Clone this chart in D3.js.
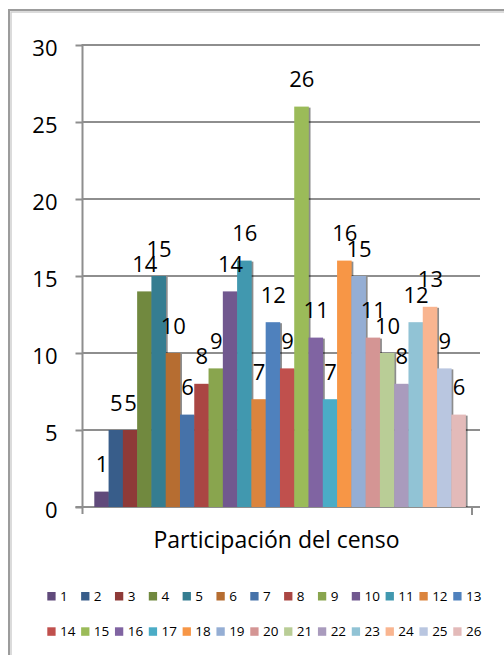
<!DOCTYPE html>
<html>
<head>
<meta charset="utf-8">
<script src="https://cdn.jsdelivr.net/npm/d3@7"></script>
<style>
html,body{margin:0;padding:0;background:#fff;}
svg{display:block;}
text{font-family:"Open Sans",sans-serif;fill:#000;}
</style>
</head>
<body>
<svg id="chart" width="504" height="655"></svg>
<script>
const seriesNames = ["1","2","3","4","5","6","7","8","9","10","11","12","13","14","15","16","17","18","19","20","21","22","23","24","25","26"];
const seriesValues = [1,5,5,14,15,10,6,8,9,14,16,7,12,9,26,11,7,16,15,11,10,8,12,13,9,6];
const seriesColors = ["#604A7B","#385D8A","#8E3A38","#71893F","#357D91","#B66D31","#4672A9","#AA4643","#89A54E","#71588F","#4198AF","#DB843D","#4F81BD","#C0504D","#9BBB59","#8064A2","#4BACC6","#F79646","#95AED4","#D49594","#B9CD96","#A99BBD","#91C3D5","#F9B590","#B9C6E0","#E3BAB9"];
const yTicks = [0,5,10,15,20,25,30];
const categoryLabel = "Participación del censo";

const svg = d3.select("#chart");

// outer chart border (clipped by window on right and bottom)
svg.append("path").attr("d","M9,700 V10 H560").attr("fill","none").attr("stroke","#9c9c9c").attr("stroke-width",2);
svg.append("path").attr("d","M11,700 V12 H560").attr("fill","none").attr("stroke","#cfcfcf").attr("stroke-width",1.5);

const y = d3.scaleLinear().domain([0,30]).range([507,45]);
const x = d3.scaleBand().domain(seriesNames).range([94.3,465.6]).paddingInner(0).paddingOuter(0);

// gridlines
svg.append("g").selectAll("line").data(yTicks.filter(d=>d>0)).join("line")
  .attr("x1",82.5).attr("x2",480).attr("y1",d=>y(d)).attr("y2",d=>y(d))
  .attr("stroke","#8e8e8e").attr("stroke-width",2);

// y axis
const yAxis = d3.axisLeft(y).tickValues(yTicks).tickSize(7).tickPadding(18).tickFormat(d3.format("d"));
const ya = svg.append("g").attr("transform","translate(82.5,0)").call(yAxis);
ya.select(".domain").remove();
ya.selectAll(".tick line").attr("stroke","#8e8e8e").attr("stroke-width",2);
ya.selectAll(".tick text").attr("font-size","22px").attr("fill","#000").attr("font-family","Open Sans, sans-serif").attr("dy",null).attr("y",10);
svg.append("line").attr("x1",82.5).attr("x2",82.5).attr("y1",44).attr("y2",514).attr("stroke","#8e8e8e").attr("stroke-width",2);
// baseline
svg.append("line").attr("x1",75.5).attr("x2",480).attr("y1",y(0)).attr("y2",y(0)).attr("stroke","#8e8e8e").attr("stroke-width",2);
svg.append("line").attr("x1",472).attr("x2",472).attr("y1",y(0)).attr("y2",515).attr("stroke","#8e8e8e").attr("stroke-width",2);

const data = seriesNames.map((n,i)=>({name:n,value:seriesValues[i],color:seriesColors[i]}));

// bar shadows
svg.append("g").selectAll("rect").data(data).join("rect")
  .attr("x",d=>x(d.name)+2).attr("y",d=>y(d.value)+1)
  .attr("width",x.bandwidth()).attr("height",d=>y(0)-y(d.value)-1)
  .attr("fill","#000").attr("opacity",0.45);
// bars
svg.append("g").selectAll("rect").data(data).join("rect")
  .attr("x",d=>x(d.name)).attr("y",d=>y(d.value))
  .attr("width",x.bandwidth()+0.3).attr("height",d=>y(0)-y(d.value))
  .attr("fill",d=>d.color);

// data labels
svg.append("g").selectAll("text").data(data).join("text")
  .attr("x",d=>x(d.name)+x.bandwidth()/2+0.5).attr("y",d=>y(d.value)-19.5)
  .attr("text-anchor","middle").attr("font-size","22px").text(d=>d.value);

// category label
svg.append("text").attr("x",276.5).attr("y",548).attr("text-anchor","middle").attr("font-size","23px").text(categoryLabel);

// legend
const leg = svg.append("g");
data.forEach((d,i)=>{
  const row = Math.floor(i/13), col = i%13;
  const lx = 47.3 + col*33.83;
  const ly = row===0 ? 592 : 627.3;
  leg.append("rect").attr("x",lx).attr("y",ly).attr("width",8.3).attr("height",8.5).attr("fill",d.color);
  leg.append("text").attr("x",lx+12.7).attr("y",ly+8.8).attr("font-size","13.5px").text(d.name);
});
</script>
</body>
</html>
